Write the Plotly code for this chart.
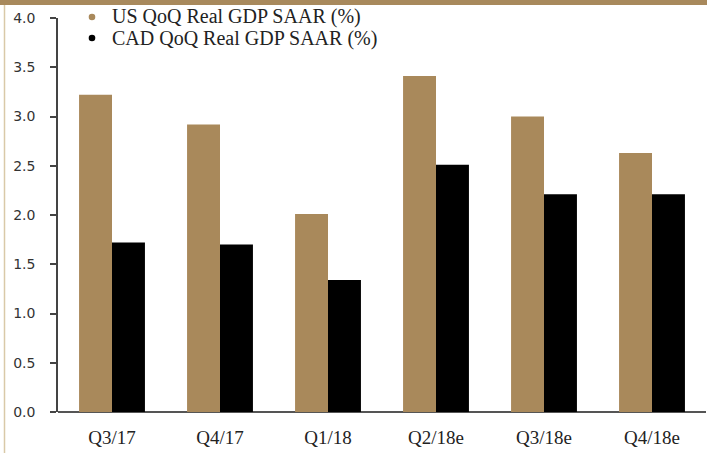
import plotly.graph_objects as go

categories = ["Q3/17", "Q4/17", "Q1/18", "Q2/18e", "Q3/18e", "Q4/18e"]
us_gdp = [3.22, 2.92, 2.01, 3.41, 3.00, 2.63]
cad_gdp = [1.72, 1.70, 1.34, 2.51, 2.21, 2.21]
series_names = ["US QoQ Real GDP SAAR (%)", "CAD QoQ Real GDP SAAR (%)"]
y_ticks = [0.0, 0.5, 1.0, 1.5, 2.0, 2.5, 3.0, 3.5, 4.0]

TAN = "#a9895b"
W, H = 707, 453
ML, MR, MT, MB = 58, 1, 18, 41
PW, PH = W - ML - MR, H - MT - MB

def px_x(p):
    return (p - ML) / PW

def px_y(p):
    return 1 - (p - MT) / PH

fig = go.Figure()
fig.add_trace(go.Bar(x=categories, y=us_gdp, name=series_names[0], marker_color=TAN,
                     marker_line_width=0, showlegend=False))
fig.add_trace(go.Bar(x=categories, y=cad_gdp, name=series_names[1], marker_color="#000000",
                     marker_line_width=0, showlegend=False))

shapes = [
    dict(type="rect", xref="paper", yref="paper", x0=px_x(0), x1=px_x(W),
         y0=px_y(0), y1=px_y(5), fillcolor="#a8895c", line_width=0, layer="above"),
    dict(type="line", xref="paper", yref="paper", x0=px_x(4.5), x1=px_x(4.5),
         y0=px_y(5), y1=px_y(H), line=dict(color="#d9c9a8", width=1.5)),
]
annotations = []
legend_colors = [TAN, "#000000"]
legend_rows = [17, 38]
for name, col, ry in zip(series_names, legend_colors, legend_rows):
    r = 3.3
    shapes.append(dict(type="circle", xref="paper", yref="paper",
                       x0=px_x(92 - r), x1=px_x(92 + r), y0=px_y(ry + r), y1=px_y(ry - r),
                       fillcolor=col, line_width=0))
    annotations.append(dict(text=name, xref="paper", yref="paper", x=px_x(110), y=px_y(ry),
                            xanchor="left", yanchor="middle", showarrow=False,
                            font=dict(family="Liberation Serif", size=20, color="#222222")))

fig.update_layout(
    width=W, height=H,
    margin=dict(l=ML, r=MR, t=MT, b=MB, pad=0),
    paper_bgcolor="white", plot_bgcolor="white",
    barmode="group", bargap=0.39, bargroupgap=0,
    showlegend=False,
    xaxis=dict(range=[-0.5, 5.5], showgrid=False, zeroline=False,
               showline=False, ticks="", ticklabelstandoff=12,
               tickfont=dict(family="Liberation Serif", size=19, color="#222222")),
    yaxis=dict(range=[0, 4.0], tickvals=y_ticks, ticktext=[f"{v:.1f}" for v in y_ticks],
               showgrid=False, zeroline=True, zerolinecolor="#555555", zerolinewidth=1.5,
               showline=True, linecolor="#444444", linewidth=1.5,
               ticks="outside", ticklen=6, tickcolor="#444444", tickwidth=1.5,
               ticklabelstandoff=12,
               tickfont=dict(family="DejaVu Sans", size=14, color="#333333")),
    shapes=shapes,
    annotations=annotations,
)
fig.write_html("out.html")
